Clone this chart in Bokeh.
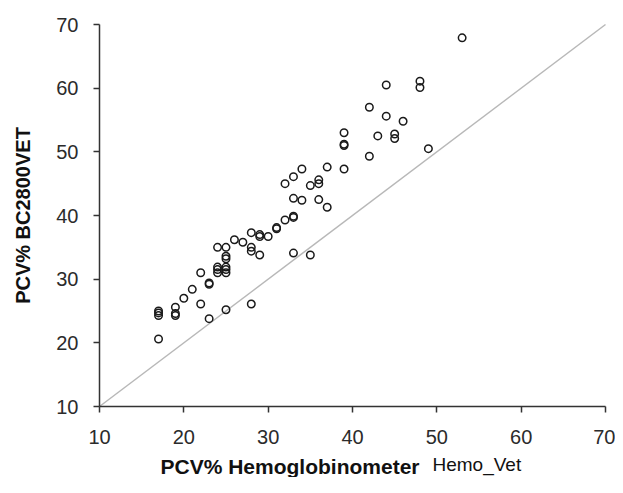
from bokeh.plotting import figure
from bokeh.models import Range1d, Label, FixedTicker
from bokeh.embed import file_html
from bokeh.resources import INLINE

# Data
hemo_vet = [53, 44, 48, 48, 42, 44, 46, 39, 43, 45,
            45, 39, 39, 49, 42, 39, 37, 34, 33, 32,
            35, 36, 36, 33, 34, 36, 37, 33, 33, 32,
            31, 31, 30, 29, 29, 28, 27, 26, 25, 24,
            28, 28, 29, 25, 25, 25, 25, 25, 24, 24,
            24, 22, 23, 23, 21, 20, 19, 19, 19, 17,
            17, 17, 22, 23, 25, 28, 33, 35, 17]
bc2800vet = [67.9, 60.5, 61.1, 60.1, 57.0, 55.6, 54.8, 53.0, 52.5, 52.8,
             52.1, 51.2, 51.0, 50.5, 49.3, 47.3, 47.6, 47.3, 46.1, 45.0,
             44.7, 45.6, 45.0, 42.7, 42.4, 42.5, 41.3, 39.9, 39.7, 39.3,
             37.9, 38.1, 36.7, 37.0, 36.7, 37.3, 35.8, 36.2, 35.0, 35.0,
             35.0, 34.4, 33.8, 33.6, 33.2, 31.9, 31.5, 31.0, 31.9, 31.5,
             31.0, 31.0, 29.4, 29.2, 28.4, 27.0, 25.6, 24.6, 24.3, 25.0,
             24.7, 24.3, 26.1, 23.8, 25.2, 26.1, 34.1, 33.8, 20.6]
identity_line = [10, 70]
tick_values = [10, 20, 30, 40, 50, 60, 70]
axis_min, axis_max = 10, 70
x_title_bold = "PCV% Hemoglobinometer"
x_title_plain = "Hemo_Vet"
y_title = "PCV% BC2800VET"

FONT = "Liberation Sans"

# Canvas 615x477; axes pinned at 10 so that titles can sit inside the frame.
# Plot box: x 10..70 -> 99..605 px, y 70..10 -> 24..406 px.
px_x = (605 - 99) / (axis_max - axis_min)
px_y = (406 - 24) / (axis_max - axis_min)
x_lo = axis_min - 99 / px_x
x_hi = axis_max + (615 - 605) / px_x
y_lo = axis_min - (477 - 406) / px_y
y_hi = axis_max + 24 / px_y

p = figure(width=615, height=477,
           x_range=Range1d(x_lo, x_hi), y_range=Range1d(y_lo, y_hi),
           output_backend="svg", toolbar_location=None,
           min_border_left=0, min_border_right=0,
           min_border_top=0, min_border_bottom=0)

p.grid.visible = False
p.outline_line_color = None
p.background_fill_color = "white"
p.border_fill_color = "white"

for ax in (p.xaxis, p.yaxis):
    ax.ticker = FixedTicker(ticks=tick_values)
    ax.fixed_location = axis_min
    ax.bounds = (axis_min, axis_max)
    ax.axis_line_color = "#333333"
    ax.axis_line_width = 1.5
    ax.major_tick_line_color = "#333333"
    ax.major_tick_line_width = 1.5
    ax.major_tick_out = 6
    ax.major_tick_in = 0
    ax.minor_tick_line_color = None
    ax.major_label_text_font = FONT
    ax.major_label_text_font_size = "20px"
    ax.major_label_text_color = "#2b2b2b"

p.xaxis.major_label_standoff = 17
p.yaxis.major_label_standoff = 15

p.yaxis.axis_label = y_title
p.yaxis.axis_label_text_font = FONT
p.yaxis.axis_label_text_font_style = "bold"
p.yaxis.axis_label_text_font_size = "20px"
p.yaxis.axis_label_text_color = "#111111"
p.yaxis.axis_label_standoff = 19

p.line(identity_line, identity_line, line_color="#b8b8b8", line_width=1.5)
p.scatter(hemo_vet, bc2800vet, marker="circle", size=7.5,
          fill_color=None, line_color="#1a1a1a", line_width=1.5)

p.add_layout(Label(x=axis_min + (160 - 99) / px_x, y=axis_min - (466 - 406) / px_y,
                   text=x_title_bold,
                   text_font=FONT, text_font_style="bold",
                   text_font_size="21px", text_color="#111111",
                   text_align="left", text_baseline="alphabetic"))
p.add_layout(Label(x=axis_min + (432 - 99) / px_x, y=axis_min - (464 - 406) / px_y,
                   text=x_title_plain,
                   text_font=FONT, text_font_style="normal",
                   text_font_size="19px", text_color="#111111",
                   text_align="left", text_baseline="alphabetic"))

open("out.html", "w").write(file_html(p, INLINE))
